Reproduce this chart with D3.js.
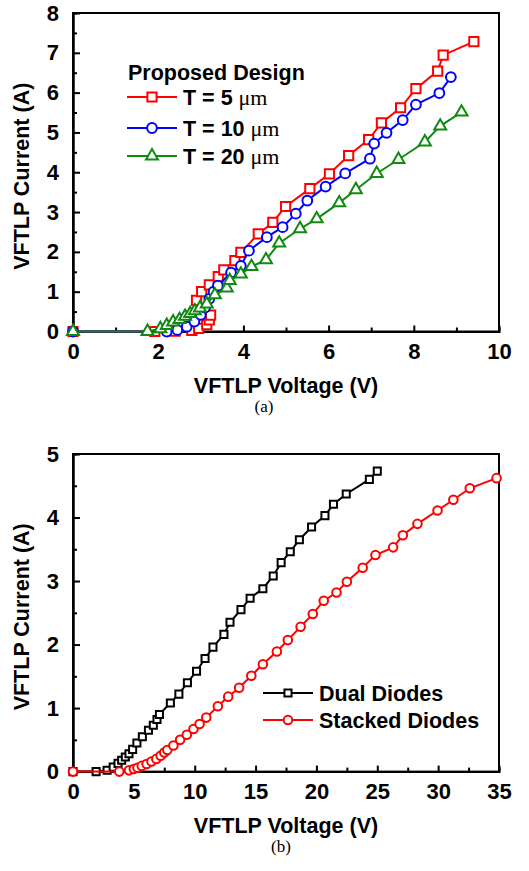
<!DOCTYPE html>
<html>
<head>
<meta charset="utf-8">
<script src="https://cdn.jsdelivr.net/npm/d3@7"></script>
<style>
    body { margin: 0; background: #fff; }
    svg text { font-family: "Liberation Sans", Arial, sans-serif; font-weight: bold; }
</style>
</head>
<body>
<div id="chart"></div>
<script>
// ---- panel (a) data ----
const t5Voltage = [0, 1.92, 2.4, 2.79, 2.95, 3.14, 3.2, 3.23, 2.9, 3.02, 3.2, 3.41, 3.54, 3.8, 3.94, 4.35, 4.69, 4.99, 5.56, 6.02, 6.47, 6.94, 7.24, 7.69, 8.05, 8.56, 8.69, 9.41];
const t5Current = [0, 0, 0.01, 0.03, 0.08, 0.17, 0.29, 0.41, 0.78, 1.0, 1.17, 1.38, 1.55, 1.78, 1.99, 2.45, 2.74, 3.14, 3.59, 3.96, 4.42, 4.82, 5.24, 5.62, 6.10, 6.54, 6.94, 7.28];
const t10Voltage = [0, 2.2, 2.45, 2.67, 2.85, 3.0, 3.1, 3.2, 3.3, 3.4, 3.71, 3.94, 4.13, 4.55, 4.92, 5.23, 5.5, 5.93, 6.39, 6.97, 7.07, 7.36, 7.74, 8.05, 8.6, 8.87];
const t10Current = [0, 0, 0.04, 0.12, 0.25, 0.42, 0.6, 0.82, 1.0, 1.15, 1.48, 1.65, 2.03, 2.37, 2.62, 2.96, 3.29, 3.64, 3.97, 4.34, 4.72, 4.99, 5.31, 5.70, 5.99, 6.39];
const t20Voltage = [0, 1.75, 2.05, 2.2, 2.35, 2.5, 2.63, 2.75, 2.86, 2.98, 3.14, 3.33, 3.61, 3.68, 3.94, 4.19, 4.53, 4.84, 5.33, 5.72, 6.25, 6.64, 7.13, 7.64, 8.26, 8.62, 9.12];
const t20Current = [0, 0, 0.07, 0.15, 0.24, 0.3, 0.38, 0.45, 0.52, 0.59, 0.69, 0.92, 1.09, 1.28, 1.44, 1.63, 1.80, 2.22, 2.58, 2.83, 3.23, 3.56, 3.97, 4.32, 4.76, 5.16, 5.51];

// ---- panel (b) data ----
const dualVoltage = [0, 1.9, 2.8, 3.3, 3.7, 4.0, 4.3, 4.6, 4.9, 5.25, 5.7, 6.2, 6.6, 6.9, 7.1, 8.0, 8.7, 9.4, 10.15, 10.85, 11.5, 12.4, 12.9, 13.8, 14.55, 15.6, 16.45, 17.1, 17.85, 18.6, 19.6, 20.7, 21.4, 22.45, 24.35, 25.0];
const dualCurrent = [0, 0, 0.02, 0.07, 0.13, 0.18, 0.23, 0.28, 0.35, 0.45, 0.55, 0.65, 0.73, 0.82, 0.9, 1.08, 1.22, 1.40, 1.58, 1.78, 1.96, 2.16, 2.35, 2.55, 2.73, 2.88, 3.08, 3.29, 3.46, 3.65, 3.85, 4.03, 4.21, 4.37, 4.60, 4.73];
const stackedVoltage = [0, 3.8, 4.6, 5.0, 5.3, 5.65, 6.05, 6.45, 6.85, 7.2, 7.5, 7.75, 8.25, 8.8, 9.35, 9.9, 10.4, 10.95, 11.9, 12.75, 13.65, 14.65, 15.6, 16.75, 17.65, 18.7, 19.7, 20.6, 21.65, 22.5, 23.8, 24.85, 26.3, 27.1, 28.3, 29.95, 31.25, 32.6, 34.8];
const stackedCurrent = [0, 0, 0.02, 0.04, 0.06, 0.09, 0.12, 0.16, 0.2, 0.25, 0.3, 0.34, 0.41, 0.5, 0.58, 0.67, 0.75, 0.85, 1.03, 1.18, 1.32, 1.51, 1.69, 1.89, 2.07, 2.28, 2.48, 2.69, 2.82, 2.99, 3.21, 3.41, 3.53, 3.72, 3.90, 4.11, 4.28, 4.46, 4.62];

const aXTicks = [0, 2, 4, 6, 8, 10];
const aXMinor = [1, 3, 5, 7, 9];
const aYTicks = [0, 1, 2, 3, 4, 5, 6, 7, 8];
const aYMinor = [0.5, 1.5, 2.5, 3.5, 4.5, 5.5, 6.5, 7.5];
const bXTicks = [0, 5, 10, 15, 20, 25, 30, 35];
const bXMinor = [2.5, 7.5, 12.5, 17.5, 22.5, 27.5, 32.5];
const bYTicks = [0, 1, 2, 3, 4, 5];
const bYMinor = [0.5, 1.5, 2.5, 3.5, 4.5];

const zip = (xs, ys) => xs.map((v, i) => ({ v: v, i: ys[i] }));

const svg = d3.select("#chart").append("svg")
    .attr("width", 529)
    .attr("height", 871);

function drawPanel(cfg) {
    let x = d3.scaleLinear().domain(cfg.xDomain).range([73, 499]);
    let y = d3.scaleLinear().domain(cfg.yDomain).range([cfg.bottom, cfg.top]);
    let g = svg.append("g");
    let fmt = d => String(d);

    // minor ticks (inward)
    g.append("g")
        .attr("transform", `translate(0,${cfg.bottom})`)
        .call(d3.axisBottom(x).tickValues(cfg.xMinor).tickSize(-4).tickFormat(""));
    g.append("g")
        .attr("transform", "translate(73,0)")
        .call(d3.axisLeft(y).tickValues(cfg.yMinor).tickSize(-4).tickFormat(""));

    // major axes
    g.append("g")
        .attr("transform", `translate(0,${cfg.bottom})`)
        .call(d3.axisBottom(x).tickValues(cfg.xTicks).tickFormat(fmt).tickSizeInner(-6).tickSizeOuter(0).tickPadding(12));
    g.append("g")
        .attr("transform", "translate(73,0)")
        .call(d3.axisLeft(y).tickValues(cfg.yTicks).tickFormat(fmt).tickSizeInner(-7).tickSizeOuter(0).tickPadding(14));

    g.selectAll(".tick line").attr("stroke", "#000").attr("stroke-width", 2);
    g.selectAll(".domain").attr("stroke", "#000").attr("stroke-width", 2);
    g.selectAll(".tick text")
        .attr("font-size", 22)
        .attr("fill", "#000")
        .style("font-family", "'Liberation Sans', Arial, sans-serif")
        .style("font-weight", "bold");

    // frame
    g.append("rect")
        .attr("x", 73).attr("y", cfg.top)
        .attr("width", 426).attr("height", cfg.bottom - cfg.top)
        .attr("fill", "none")
        .attr("stroke", "#000")
        .attr("stroke-width", 2);

    // axis titles
    g.append("text")
        .attr("x", 286).attr("y", cfg.bottom + 61)
        .attr("text-anchor", "middle")
        .attr("font-size", 21.5)
        .text("VFTLP Voltage (V)");
    g.append("text")
        .attr("transform", `translate(29,${(cfg.top + cfg.bottom) / 2 + 4}) rotate(-90)`)
        .attr("text-anchor", "middle")
        .attr("font-size", 21.5)
        .text("VFTLP Current (A)");

    // caption
    g.append("text")
        .attr("x", cfg.captionX).attr("y", cfg.bottom + 80)
        .attr("text-anchor", "middle")
        .attr("font-size", 17)
        .style("font-family", "'Liberation Serif', 'Times New Roman', serif")
        .style("font-weight", "normal")
        .text(cfg.caption);

    let line = d3.line().x(d => x(d.v)).y(d => y(d.i));

    cfg.series.forEach(s => {
        let data = zip(s.xs, s.ys);
        g.append("path")
            .datum(data)
            .attr("fill", "none")
            .attr("stroke", s.color)
            .attr("stroke-width", 2)
            .attr("d", line);
        g.selectAll(null)
            .data(data)
            .enter()
            .append("path")
            .attr("transform", d => `translate(${x(d.v)},${y(d.i)})`)
            .attr("d", d3.symbol().type(s.shape).size(s.size))
            .attr("fill", "#fff")
            .attr("stroke", s.color)
            .attr("stroke-width", 2);
    });

    // legend
    if (cfg.legendTitle) {
        g.append("text")
            .attr("x", 128).attr("y", cfg.legendTitleY)
            .attr("dy", "0.35em")
            .attr("font-size", 21.5)
            .text(cfg.legendTitle);
    }
    cfg.series.forEach((s, k) => {
        let ly = cfg.legendY[k];
        g.append("line")
            .attr("x1", cfg.legendX).attr("x2", cfg.legendX + 50)
            .attr("y1", ly).attr("y2", ly)
            .attr("stroke", s.color)
            .attr("stroke-width", 2);
        g.append("path")
            .attr("transform", `translate(${cfg.legendX + 25},${ly})`)
            .attr("d", d3.symbol().type(s.shape).size(s.size))
            .attr("fill", "#fff")
            .attr("stroke", s.color)
            .attr("stroke-width", 2);
        let t = g.append("text")
            .attr("x", cfg.legendX + 56).attr("y", ly)
            .attr("dy", "0.35em")
            .attr("font-size", 21.5);
        t.append("tspan").text(s.label);
        if (s.unit) {
            t.append("tspan")
                .style("font-family", "'Liberation Serif', 'Times New Roman', serif")
                .style("font-weight", "normal")
                .attr("font-size", 22)
                .text(s.unit);
        }
    });
}

drawPanel({
    xDomain: [0, 10], yDomain: [0, 8], top: 13, bottom: 331.5,
    xTicks: aXTicks, xMinor: aXMinor, yTicks: aYTicks, yMinor: aYMinor,
    caption: "(a)", captionX: 264,
    legendTitle: "Proposed Design", legendTitleY: 72,
    legendX: 127, legendY: [97, 128, 156],
    series: [
        { xs: t5Voltage, ys: t5Current, color: "#ff0000", shape: d3.symbolSquare, size: 85, label: "T = 5 ", unit: "μm" },
        { xs: t10Voltage, ys: t10Current, color: "#0000ff", shape: d3.symbolCircle, size: 75, label: "T = 10 ", unit: "μm" },
        { xs: t20Voltage, ys: t20Current, color: "#108a10", shape: d3.symbolTriangle, size: 62, label: "T = 20 ", unit: "μm" }
    ]
});

drawPanel({
    xDomain: [0, 35], yDomain: [0, 5], top: 454, bottom: 771.6,
    xTicks: bXTicks, xMinor: bXMinor, yTicks: bYTicks, yMinor: bYMinor,
    caption: "(b)", captionX: 281,
    legendX: 263, legendY: [693, 720],
    series: [
        { xs: dualVoltage, ys: dualCurrent, color: "#000000", shape: d3.symbolSquare, size: 50, label: "Dual Diodes" },
        { xs: stackedVoltage, ys: stackedCurrent, color: "#ff0000", shape: d3.symbolCircle, size: 58, label: "Stacked Diodes" }
    ]
});
</script>
</body>
</html>
